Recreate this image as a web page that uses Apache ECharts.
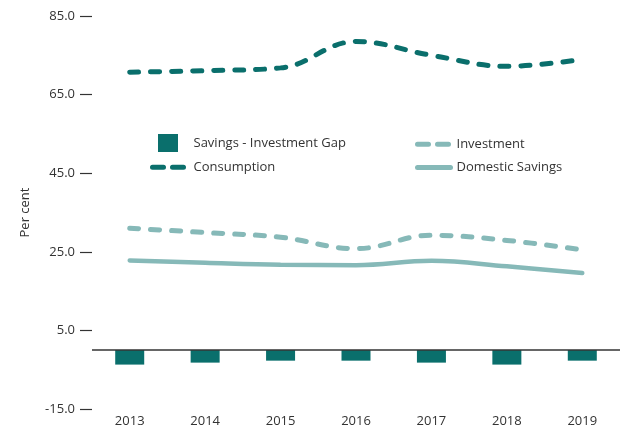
<!DOCTYPE html>
<html>
<head>
<meta charset="utf-8">
<script src="https://cdn.jsdelivr.net/npm/echarts@6/dist/echarts.min.js"></script>
<style>
  html, body { margin: 0; padding: 0; background: #fff; }
  #chart { width: 631px; height: 431px; }
</style>
</head>
<body>
<div id="chart"></div>
<script>
const years = ['2013', '2014', '2015', '2016', '2017', '2018', '2019']
const gap = [-3.7, -3.2, -2.7, -2.7, -3.2, -3.7, -2.7]
const consumption = [70.7, 71.1, 71.8, 78.5, 75.0, 72.2, 74.0]
const investment = [31.0, 29.9, 28.7, 25.8, 29.2, 27.9, 25.5]
const savings = [22.8, 22.2, 21.7, 21.6, 22.7, 21.3, 19.6]

const dark = '#0a6f6c'
const light = '#86b9b8'
const font = 'Open Sans'

const chart = echarts.init(document.getElementById('chart'))

// hide the circle ECharts puts in the middle of line legend icons
const noSymbol = { opacity: 0 }
const legendDash = { width: 5, type: [11, 9], cap: 'round' }

chart.setOption({
  animation: false,
  grid: { left: 92, right: 11, top: 16, bottom: 22 },
  legend: [
    {
      left: 150,
      top: 134,
      padding: 0,
      orient: 'vertical',
      itemWidth: 31,
      itemHeight: 18,
      itemGap: 8,
      textStyle: { color: '#333', fontSize: 13, fontFamily: font, padding: [0, 0, 0, 5] },
      data: [
        { name: 'Savings - Investment Gap', icon: 'path://M0,0h20v18h-20z' },
        { name: 'Consumption', itemStyle: noSymbol, lineStyle: legendDash }
      ]
    },
    {
      left: 415,
      top: 137,
      padding: 0,
      orient: 'vertical',
      itemWidth: 33,
      itemHeight: 18,
      itemGap: 9,
      textStyle: { color: '#333', fontSize: 13, fontFamily: font, padding: [0, 0, 0, 1] },
      data: [
        { name: 'Investment', itemStyle: noSymbol, lineStyle: legendDash },
        { name: 'Domestic Savings', itemStyle: noSymbol, lineStyle: { width: 5, cap: 'round' } }
      ]
    }
  ],
  xAxis: {
    type: 'category',
    data: years,
    axisLine: { show: false },
    axisTick: { show: false },
    axisLabel: { color: '#333', fontSize: 13, fontFamily: font, margin: 6 }
  },
  yAxis: {
    type: 'value',
    min: -15,
    max: 85,
    interval: 20,
    name: 'Per cent',
    nameLocation: 'middle',
    nameGap: 60,
    nameTextStyle: { color: '#333', fontSize: 13, fontFamily: font },
    axisLine: { show: false },
    axisTick: { show: true, length: 12, lineStyle: { color: '#333', width: 1.2 } },
    axisLabel: {
      color: '#333',
      fontSize: 13,
      fontFamily: font,
      margin: 17,
      formatter: v => v.toFixed(1)
    },
    splitLine: { show: false }
  },
  series: [
    {
      name: 'Savings - Investment Gap',
      type: 'bar',
      data: gap,
      barWidth: 29,
      itemStyle: { color: dark },
      markLine: {
        silent: true,
        symbol: 'none',
        label: { show: false },
        lineStyle: { color: '#333', width: 1.5, type: 'solid' },
        data: [{ yAxis: 0 }]
      }
    },
    {
      name: 'Consumption',
      type: 'line',
      data: consumption,
      smooth: 0.4,
      showSymbol: false,
      symbol: 'none',
      itemStyle: { color: dark },
      lineStyle: { color: dark, width: 5, type: [9, 12], cap: 'round' }
    },
    {
      name: 'Investment',
      type: 'line',
      data: investment,
      smooth: 0.4,
      showSymbol: false,
      symbol: 'none',
      itemStyle: { color: light },
      lineStyle: { color: light, width: 5, type: [9, 12], cap: 'round' }
    },
    {
      name: 'Domestic Savings',
      type: 'line',
      data: savings,
      smooth: 0.4,
      showSymbol: false,
      symbol: 'none',
      itemStyle: { color: light },
      lineStyle: { color: light, width: 4.5, cap: 'round' }
    }
  ]
})
</script>
</body>
</html>
